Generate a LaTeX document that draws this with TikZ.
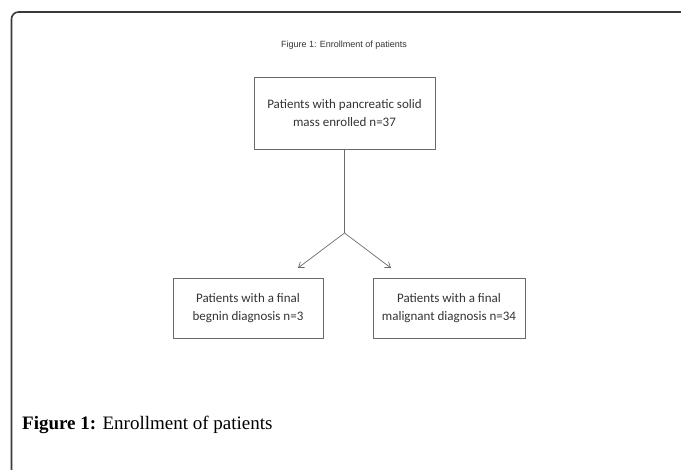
\documentclass[tikz,border=0pt]{standalone}
\usepackage{fontspec}
\setmainfont{Liberation Serif}
\newfontfamily\boxfont{Carlito}
\newfontfamily\smallsans{Liberation Sans}
\usetikzlibrary{arrows.meta}
\definecolor{framegray}{HTML}{3A3A3A}
\definecolor{boxgray}{HTML}{6A6A6A}
\definecolor{txtgray}{HTML}{333333}
\tikzset{
  flowbox/.style={draw=boxgray, line width=0.8pt, inner sep=0pt, align=center,
    font=\boxfont\fontsize{13}{17.5}\selectfont, text=txtgray},
  conn/.style={draw=boxgray, line width=0.7pt},
  arr/.style={conn, -{Straight Barb[length=5pt,width=7pt]}},
}
\begin{document}
\begin{tikzpicture}[x=1pt,y=-1pt]
\useasboundingbox (0,0) rectangle (681,470);
% outer frame
\draw[framegray, line width=1.6pt, rounded corners=7pt] (11.5,475) -- (11.5,12) -- (690,12);
% small title
\node[font=\smallsans\fontsize{9}{10}\selectfont, text=txtgray] (title) at (344,45) {Figure 1: Enrollment of patients};
% boxes
\node[flowbox, minimum width=181pt, minimum height=72pt] (top) at (344.5,113) {Patients with pancreatic solid\\mass enrolled n=37};
\node[flowbox, minimum width=150pt, minimum height=60pt] (left) at (248,308) {Patients with a final\\begnin diagnosis n=3};
\node[flowbox, minimum width=152pt, minimum height=60pt] (right) at (449,308) {Patients with a final\\malignant diagnosis n=34};
% connectors
\coordinate (apex) at (344.5,233);
\coordinate (ltip) at (298,268);
\coordinate (rtip) at (391,268);
\draw[conn] (top.south) -- (apex);
\draw[arr] (apex) -- (ltip);
\draw[arr] (apex) -- (rtip);
% caption
\node[anchor=base west, font=\fontsize{19}{22}\selectfont, inner sep=0pt] (caption) at (22,430) {\textbf{Figure 1:} Enrollment of patients};
\end{tikzpicture}
\end{document}
